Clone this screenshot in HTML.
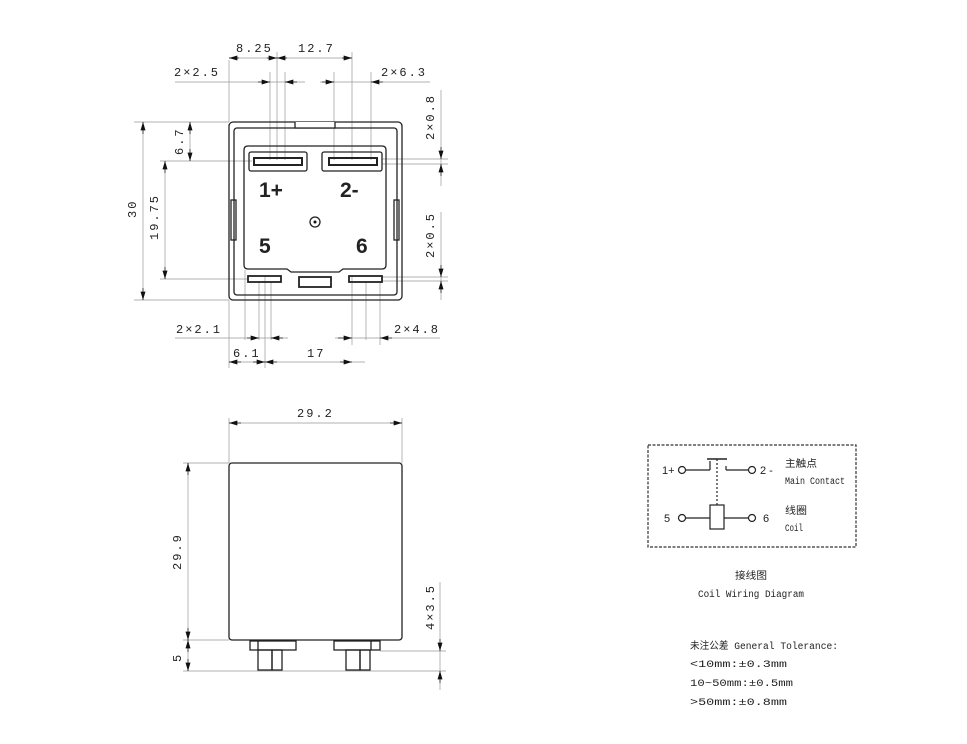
<!DOCTYPE html>
<html><head><meta charset="utf-8"><style>
html,body{margin:0;padding:0;background:#fff;}
svg{display:block;}
text{font-family:"Liberation Mono","Noto Sans CJK SC",monospace;fill:#222;}
text.s{font-family:"Liberation Sans",sans-serif;}
.d{font-size:12px;letter-spacing:2px;}
.t{stroke:#999;stroke-width:0.7;fill:none;}
.k{stroke:#222;stroke-width:1.3;fill:none;}
.a{fill:#111;}
</style></head><body>
<svg width="967" height="744" viewBox="0 0 967 744" xmlns="http://www.w3.org/2000/svg">
<defs>
<marker id="ar" viewBox="0 0 10 6" refX="10" refY="3" markerWidth="10" markerHeight="5" orient="auto-start-reverse" markerUnits="userSpaceOnUse"><path d="M0,0 L10,3 L0,6z" fill="#111"/></marker>
</defs>
<g class="t">
<line x1="229" y1="60" x2="229" y2="122"/>
<line x1="277" y1="52" x2="277" y2="160"/>
<line x1="352" y1="52" x2="352" y2="160"/>
<line x1="270" y1="72" x2="270" y2="160"/>
<line x1="285" y1="72" x2="285" y2="160"/>
<line x1="334" y1="72" x2="334" y2="160"/>
<line x1="371" y1="72" x2="371" y2="160"/>
<line x1="134" y1="122" x2="229" y2="122"/>
<line x1="134" y1="300" x2="229" y2="300"/>
<line x1="160" y1="161" x2="252" y2="161"/>
<line x1="160" y1="279" x2="248" y2="279"/>
<line x1="382" y1="159" x2="448" y2="159"/>
<line x1="382" y1="164" x2="448" y2="164"/>
<line x1="382" y1="277" x2="448" y2="277"/>
<line x1="382" y1="281" x2="448" y2="281"/>
<line x1="229" y1="300" x2="229" y2="368"/>
<line x1="265" y1="276" x2="265" y2="368"/>
<line x1="259" y1="282" x2="259" y2="340"/>
<line x1="271" y1="282" x2="271" y2="340"/>
<line x1="352" y1="276" x2="352" y2="345"/>
<line x1="380" y1="282" x2="380" y2="345"/>
<line x1="366" y1="282" x2="366" y2="340"/>
<line x1="245" y1="270" x2="245" y2="340"/>
<line x1="229" y1="58" x2="352" y2="58"/>
<line x1="175" y1="82" x2="305" y2="82"/>
<line x1="320" y1="82" x2="430" y2="82"/>
<line x1="175" y1="338" x2="288" y2="338"/>
<line x1="335" y1="338" x2="440" y2="338"/>
<line x1="229" y1="362" x2="365" y2="362"/>
<line x1="441" y1="90" x2="441" y2="186"/>
<line x1="441" y1="212" x2="441" y2="300"/>
<line x1="143" y1="122" x2="143" y2="300"/>
<line x1="165" y1="161" x2="165" y2="279"/>
<line x1="190" y1="122" x2="190" y2="161"/>
</g>
<g stroke="#111" stroke-width="0.7">
<line x1="239" y1="58" x2="229" y2="58" marker-end="url(#ar)"/>
<line x1="267" y1="58" x2="277" y2="58" marker-end="url(#ar)"/>
<line x1="287" y1="58" x2="277" y2="58" marker-end="url(#ar)"/>
<line x1="342" y1="58" x2="352" y2="58" marker-end="url(#ar)"/>
<line x1="258" y1="82" x2="270" y2="82" marker-end="url(#ar)"/>
<line x1="297" y1="82" x2="285" y2="82" marker-end="url(#ar)"/>
<line x1="322" y1="82" x2="334" y2="82" marker-end="url(#ar)"/>
<line x1="383" y1="82" x2="371" y2="82" marker-end="url(#ar)"/>
<line x1="143" y1="134" x2="143" y2="122" marker-end="url(#ar)"/>
<line x1="143" y1="288" x2="143" y2="300" marker-end="url(#ar)"/>
<line x1="165" y1="173" x2="165" y2="161" marker-end="url(#ar)"/>
<line x1="165" y1="267" x2="165" y2="279" marker-end="url(#ar)"/>
<line x1="190" y1="134" x2="190" y2="122" marker-end="url(#ar)"/>
<line x1="190" y1="149" x2="190" y2="161" marker-end="url(#ar)"/>
<line x1="441" y1="147" x2="441" y2="159" marker-end="url(#ar)"/>
<line x1="441" y1="176" x2="441" y2="164" marker-end="url(#ar)"/>
<line x1="441" y1="265" x2="441" y2="277" marker-end="url(#ar)"/>
<line x1="441" y1="293" x2="441" y2="281" marker-end="url(#ar)"/>
<line x1="247" y1="338" x2="259" y2="338" marker-end="url(#ar)"/>
<line x1="283" y1="338" x2="271" y2="338" marker-end="url(#ar)"/>
<line x1="338" y1="338" x2="352" y2="338" marker-end="url(#ar)"/>
<line x1="392" y1="338" x2="380" y2="338" marker-end="url(#ar)"/>
<line x1="241" y1="362" x2="229" y2="362" marker-end="url(#ar)"/>
<line x1="253" y1="362" x2="265" y2="362" marker-end="url(#ar)"/>
<line x1="277" y1="362" x2="265" y2="362" marker-end="url(#ar)"/>
<line x1="340" y1="362" x2="352" y2="362" marker-end="url(#ar)"/>
</g>
<rect class="k" x="229" y="122" width="173" height="178" rx="4"/>
<rect class="k" x="234" y="128" width="163" height="167" rx="3"/>
<path class="k" d="M295,122 V128 H335 V122" style="fill:#fff"/>
<path class="k" d="M244,150 Q244,146 248,146 H382 Q386,146 386,150 V265 Q386,269 382,269 H343 L339,272 H291 L287,269 H248 Q244,269 244,265 Z"/>
<rect class="k" x="231" y="200" width="5" height="40"/>
<rect class="k" x="394" y="200" width="5" height="40"/>
<rect class="k" x="249" y="152" width="58" height="19" rx="2"/>
<rect class="k" x="254" y="158" width="48" height="7" style="stroke-width:2"/>
<rect class="k" x="322" y="152" width="60" height="19" rx="2"/>
<rect class="k" x="329" y="158" width="48" height="7" style="stroke-width:2"/>
<rect class="k" x="248" y="276" width="33" height="6" style="stroke-width:1.8"/>
<rect class="k" x="299" y="277" width="32" height="10" style="stroke-width:1.8"/>
<rect class="k" x="349" y="276" width="33" height="6" style="stroke-width:1.8"/>
<circle class="k" cx="315" cy="222" r="5"/><circle cx="315" cy="222" r="1.5" class="a"/>
<g font-size="21" font-weight="bold">
<text class="s" x="259" y="197" font-size="21" font-weight="bold">1+</text>
<text class="s" x="340" y="197" font-size="21" font-weight="bold">2-</text>
<text class="s" x="259" y="253" font-size="21" font-weight="bold">5</text>
<text class="s" x="356" y="253" font-size="21" font-weight="bold">6</text>
</g>
<text class="d" x="236" y="52">8.25</text>
<text class="d" x="298" y="52">12.7</text>
<text class="d" x="174" y="76">2×2.5</text>
<text class="d" x="381" y="76">2×6.3</text>
<text class="d" x="176" y="333">2×2.1</text>
<text class="d" x="394" y="333">2×4.8</text>
<text class="d" x="233" y="357">6.1</text>
<text class="d" x="307" y="357">17</text>
<text class="d" transform="translate(136,218) rotate(-90)">30</text>
<text class="d" transform="translate(158,240) rotate(-90)">19.75</text>
<text class="d" transform="translate(183,155) rotate(-90)">6.7</text>
<text class="d" transform="translate(434,140) rotate(-90)">2×0.8</text>
<text class="d" transform="translate(434,258) rotate(-90)">2×0.5</text>
<g class="t">
<line x1="229" y1="418" x2="229" y2="463"/>
<line x1="402" y1="418" x2="402" y2="463"/>
<line x1="229" y1="423" x2="402" y2="423"/>
<line x1="183" y1="463" x2="229" y2="463"/>
<line x1="183" y1="640" x2="229" y2="640"/>
<line x1="183" y1="671" x2="446" y2="671"/>
<line x1="380" y1="651" x2="446" y2="651"/>
<line x1="188" y1="463" x2="188" y2="671"/>
<line x1="440" y1="582" x2="440" y2="690"/>
</g>
<g stroke="#111" stroke-width="0.7">
<line x1="241" y1="423" x2="229" y2="423" marker-end="url(#ar)"/>
<line x1="390" y1="423" x2="402" y2="423" marker-end="url(#ar)"/>
<line x1="188" y1="475" x2="188" y2="463" marker-end="url(#ar)"/>
<line x1="188" y1="628" x2="188" y2="640" marker-end="url(#ar)"/>
<line x1="188" y1="652" x2="188" y2="640" marker-end="url(#ar)"/>
<line x1="188" y1="659" x2="188" y2="671" marker-end="url(#ar)"/>
<line x1="440" y1="639" x2="440" y2="651" marker-end="url(#ar)"/>
<line x1="440" y1="683" x2="440" y2="671" marker-end="url(#ar)"/>
</g>
<rect class="k" x="229" y="463" width="173" height="177" rx="3"/>
<g class="k">
<rect x="250" y="641" width="46" height="9"/><line x1="258" y1="641" x2="258" y2="650"/>
<rect x="258" y="650" width="14" height="20"/><rect x="272" y="650" width="10" height="20"/>
<rect x="334" y="641" width="46" height="9"/><line x1="371" y1="641" x2="371" y2="650"/>
<rect x="346" y="650" width="14" height="20"/><rect x="360" y="650" width="10" height="20"/>
</g>
<text class="d" x="297" y="417">29.2</text>
<text class="d" transform="translate(181,570) rotate(-90)">29.9</text>
<text class="d" transform="translate(181,662) rotate(-90)">5</text>
<text class="d" transform="translate(434,630) rotate(-90)">4×3.5</text>
<rect x="648" y="445" width="208" height="102" fill="none" stroke="#333" stroke-width="1.2" stroke-dasharray="3,1.5"/>
<g stroke="#222" stroke-width="1.2" fill="none">
<circle cx="682" cy="470" r="3.5"/><line x1="686" y1="470" x2="710" y2="470"/><line x1="710" y1="470" x2="710" y2="461"/>
<line x1="707" y1="459" x2="727" y2="459" stroke-width="1.6"/>
<line x1="717" y1="459" x2="717" y2="505" stroke-dasharray="2,2"/>
<line x1="726" y1="466" x2="726" y2="470"/><line x1="726" y1="470" x2="748" y2="470"/><circle cx="752" cy="470" r="3.5"/>
<circle cx="682" cy="518" r="3.5"/><line x1="686" y1="518" x2="710" y2="518"/>
<rect x="710" y="505" width="14" height="24"/>
<line x1="724" y1="518" x2="748" y2="518"/><circle cx="752" cy="518" r="3.5"/>
</g>
<text class="s" x="662" y="474" font-size="11">1+</text>
<text class="s" x="760" y="474" font-size="11">2 -</text>
<text class="s" x="664" y="522" font-size="11">5</text>
<text class="s" x="763" y="522" font-size="11">6</text>
<g font-size="10">
<text x="785" y="467" textLength="32" lengthAdjust="spacingAndGlyphs">主触点</text>
<text x="785" y="484" textLength="60" lengthAdjust="spacingAndGlyphs">Main Contact</text>
<text x="785" y="514" textLength="22" lengthAdjust="spacingAndGlyphs">线圈</text>
<text x="785" y="531" textLength="18" lengthAdjust="spacingAndGlyphs">Coil</text>
<text x="735" y="579" textLength="32" lengthAdjust="spacingAndGlyphs">接线图</text>
<text x="698" y="597" textLength="106" lengthAdjust="spacingAndGlyphs">Coil Wiring Diagram</text>
<text x="690" y="649" textLength="148" lengthAdjust="spacingAndGlyphs">未注公差 General Tolerance:</text>
<text x="690" y="667" textLength="97" lengthAdjust="spacingAndGlyphs">&lt;10mm:±0.3mm</text>
<text x="690" y="686" textLength="103" lengthAdjust="spacingAndGlyphs">10~50mm:±0.5mm</text>
<text x="690" y="705" textLength="97" lengthAdjust="spacingAndGlyphs">&gt;50mm:±0.8mm</text>
</g>
</svg>
</body></html>
